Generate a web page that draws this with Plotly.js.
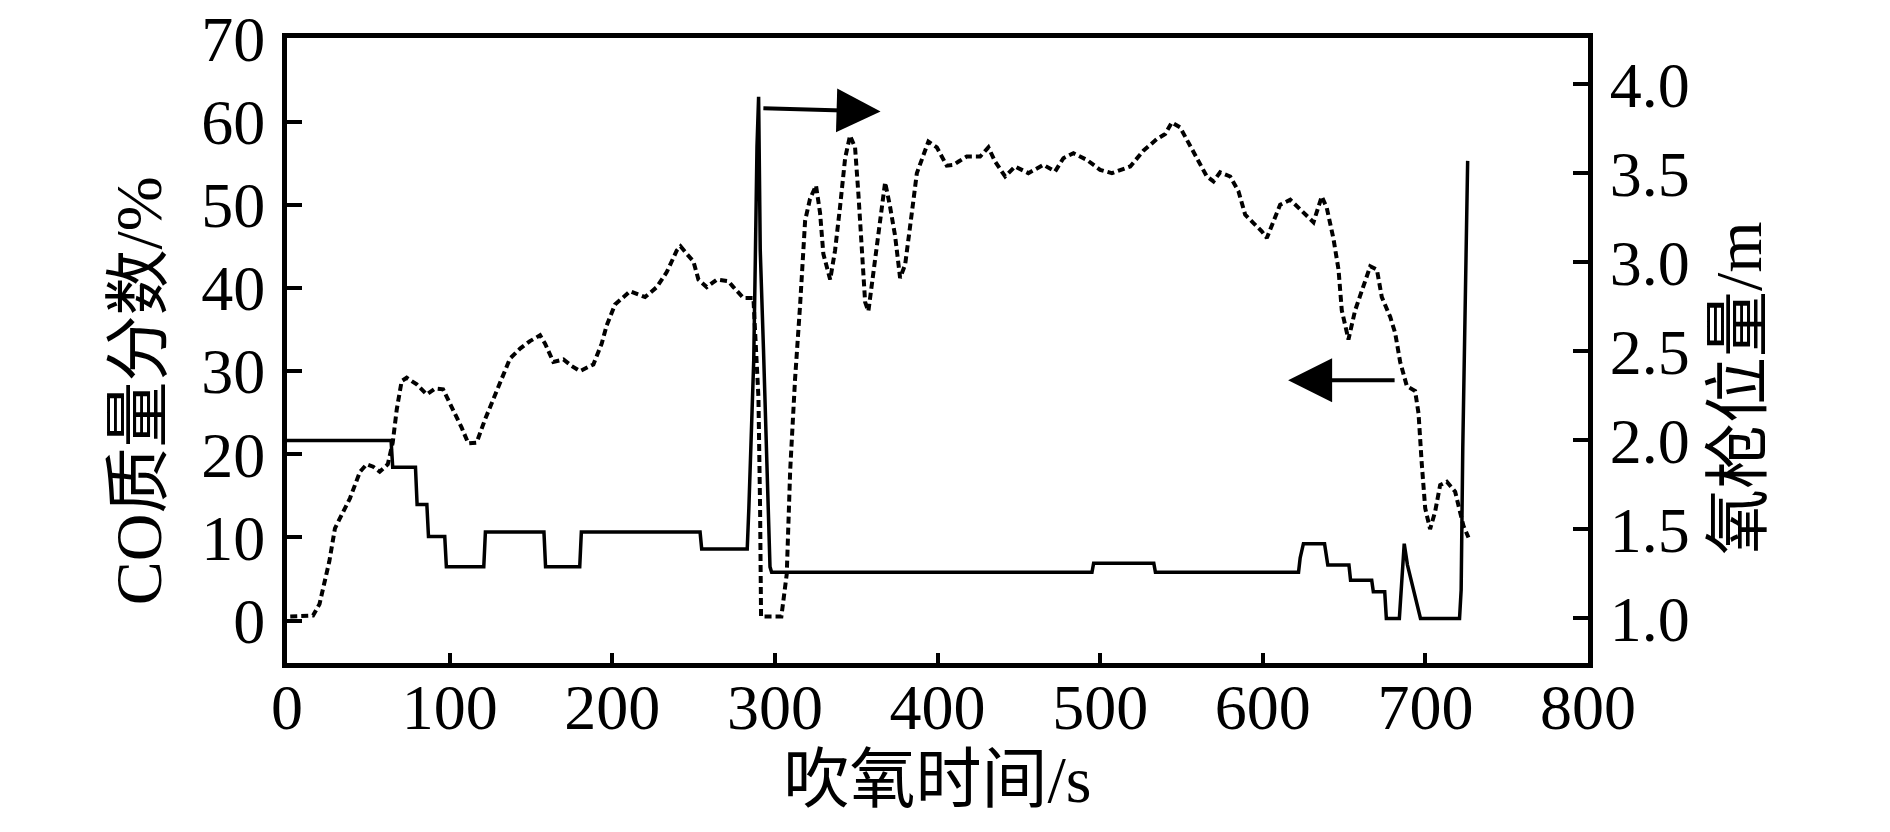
<!DOCTYPE html>
<html>
<head>
<meta charset="utf-8">
<script src="https://cdn.plot.ly/plotly-3.0.1.min.js"></script>
<style>
  html, body { margin: 0; padding: 0; background: #fff; }
  #myDiv { width: 1890px; height: 832px; }
</style>
</head>
<body>
<div id="myDiv"></div>
<script>
// CO mass fraction (%) vs blowing time (s), dashed line, left axis
var coTime = [2, 10, 16, 20, 22, 26, 29.5, 33.6, 38.7, 44.9, 49, 53, 57, 62, 65, 67.5, 70.5, 73.6, 79.8, 85.9,
  91, 96, 102.3, 107.4, 111.5, 116.6, 121.8, 126.9, 132, 137.1, 143.3, 149.4, 155.6, 158.7, 163.8, 170, 175.1, 180.2,
  188.4, 193.5, 196.6, 201.7, 211, 220.2, 227.4, 233.5, 239.7, 242, 245.8, 249.9, 253, 258.1, 264.3, 271.4, 274.5,
  280.6, 286.8, 289.9, 290.9, 291.5, 304, 307.3, 309.4, 312.4, 315.5, 318.6, 321.6, 325.3, 327.8, 329.8, 334, 337,
  340.1, 343.2, 346.2, 349.3, 351.4, 353.4, 355.5, 357.5, 360.6, 363.7, 367.8, 370.8, 373.9, 377, 380.1, 384.2, 387.3,
  394.4, 399.6, 405.7, 409.8, 413, 418, 426.2, 431.3, 435.4, 441.6, 447.7, 455.9, 465.1, 472.3, 477.4, 483.6, 491.8,
  500, 507.2, 518.5, 526.6, 534.9, 540, 544.1, 549.2, 553.3, 559.5, 565.6, 569.7, 573.8, 580, 585.1, 589.2, 594.3,
  599.4, 602.5, 606.6, 610.7, 616.9, 623, 631.2, 636.3, 639.4, 643.5, 646.6, 648.6, 652.7, 656.8, 662, 666.1, 670.2,
  673.2, 678.4, 681.4, 684.5, 688.6, 693.7, 695.8, 697.8, 699.9, 702.9, 706, 709.1, 713.2, 718.3, 721.4, 723.4, 726.5];
var coValue = [0.5, 0.5, 0.6, 2.0, 3.6, 7.1, 11.1, 12.7, 14.7, 17.9, 18.8, 18.5, 17.9, 18.8, 21.4, 25.4, 28.8, 29.2, 28.4, 27.2,
  27.9, 27.8, 25.4, 23.2, 21.3, 21.4, 24.2, 26.6, 29.0, 31.5, 32.7, 33.6, 34.3, 33.3, 31.1, 31.4, 30.6, 30.0,
  30.8, 33.3, 35.5, 38.0, 39.6, 38.9, 40.1, 41.9, 44.5, 45.0, 44.1, 43.2, 41.0, 40.1, 41.0, 40.8, 40.1,
  38.8, 38.8, 26.8, 13.6, 0.5, 0.5, 5.6, 18, 29, 37.9, 48.1, 50.7, 52.3, 49.0, 44.1, 41.0, 44.5,
  49.8, 55.6, 58.3, 56.9, 51.2, 44.5, 38.3, 37.2, 41.9, 46.4, 52.7, 49.8, 46.3, 41.2, 42.8, 49.0, 53.8,
  57.6, 56.9, 54.7, 54.8, 55.2, 55.8, 55.8, 56.9, 55.2, 53.4, 54.6, 53.8, 54.8, 54.0, 55.6, 56.2, 55.4,
  54.2, 53.8, 54.6, 56.5, 57.9, 58.5, 59.9, 59.3, 57.9, 55.6, 53.4, 52.8, 53.9, 53.4, 51.6, 48.8, 47.8,
  46.8, 46.0, 48.0, 50.0, 50.6, 49.4, 47.9, 51.0, 49.6, 45.9, 42.2, 37.3, 33.8, 37.3, 40.1, 42.6, 42.2,
  38.9, 36.5, 34.6, 31.1, 28.2, 27.6, 24.9, 18.8, 13.5, 11.0, 13.1, 16.3, 16.7, 15.5, 13.1, 11.4, 10.0];

// oxygen lance position (m) vs blowing time (s), solid line, right axis
var lanceTime = [0, 64, 65, 79, 80, 86, 87, 97, 98, 121, 122, 158, 159, 180, 181, 254, 255, 283, 284, 285, 287, 288,
  289, 290, 291, 293, 295, 297, 298, 495, 496, 533, 534, 622, 623, 625, 638, 640, 653, 654, 667, 668, 675, 676,
  684, 686, 687, 689, 693, 697, 721, 722, 723, 724, 725, 726];
var lanceValue = [2.0, 2.0, 1.85, 1.85, 1.64, 1.64, 1.46, 1.46, 1.29, 1.29, 1.485, 1.485, 1.29, 1.29, 1.485, 1.485, 1.39, 1.39, 1.62, 1.94, 2.45, 3.03,
  3.65, 3.93, 3.07, 2.51, 1.94, 1.29, 1.26, 1.26, 1.31, 1.31, 1.26, 1.26, 1.34, 1.42, 1.42, 1.30, 1.30, 1.215, 1.215, 1.15, 1.15, 1.0,
  1.0, 1.3, 1.42, 1.30, 1.15, 1.0, 1.0, 1.16, 1.96, 2.44, 3.02, 3.57];

var xTicks = [0, 100, 200, 300, 400, 500, 600, 700, 800];
var yTicks = [0, 10, 20, 30, 40, 50, 60, 70];
var y2Ticks = [1.0, 1.5, 2.0, 2.5, 3.0, 3.5, 4.0];

var xTitle = '吹氧时间/s';
var yTitle = 'CO质量分数/%';
var y2Title = '氧枪位量/m';

var fontFam = '"Liberation Serif", "Times New Roman", "Noto Sans CJK SC", serif';

var trace1 = {
  x: coTime,
  y: coValue,
  mode: 'lines',
  line: {color: '#000', width: 4, dash: '7px,4px'},
  yaxis: 'y',
  type: 'scatter'
};
var trace2 = {
  x: lanceTime,
  y: lanceValue,
  mode: 'lines',
  line: {color: '#000', width: 3.5},
  yaxis: 'y2',
  type: 'scatter'
};

var axisBase = {
  showgrid: false,
  zeroline: false,
  showline: true,
  linecolor: '#000',
  linewidth: 5,
  ticks: 'inside',
  tickcolor: '#000',
  tickwidth: 4,
  ticklabeloverflow: 'allow',
  tickfont: {family: fontFam, size: 64, color: '#000'}
};

var layout = {
  width: 1890,
  height: 832,
  margin: {l: 287, r: 302, t: 38, b: 169},
  paper_bgcolor: '#fff',
  plot_bgcolor: '#fff',
  showlegend: false,
  font: {family: fontFam, color: '#000'},
  xaxis: Object.assign({}, axisBase, {
    range: [0, 800],
    tickvals: xTicks,
    ticklen: 10,
    mirror: true,
    ticklabelstandoff: -16,
    title: {text: xTitle, font: {family: fontFam, size: 66, color: '#000'}, standoff: 13}
  }),
  yaxis: Object.assign({}, axisBase, {
    range: [-5.1, 70.05],
    tickvals: yTicks,
    ticklen: 15,
    ticklabelstandoff: 4
  }),
  yaxis2: Object.assign({}, axisBase, {
    range: [0.75, 4.26],
    tickvals: y2Ticks,
    tickformat: '.1f',
    ticklen: 15,
    ticklabelstandoff: 4,
    overlaying: 'y',
    side: 'right'
  }),
  annotations: [
    {text: yTitle, xref: 'paper', yref: 'paper', x: -0.1145, y: 0.435, xanchor: 'center', yanchor: 'middle',
      textangle: -90, showarrow: false, font: {family: fontFam, size: 66, color: '#000'}},
    {text: y2Title, xref: 'paper', yref: 'paper', x: 1.1153, y: 0.44, xanchor: 'center', yanchor: 'middle',
      textangle: -90, showarrow: false, font: {family: fontFam, size: 66, color: '#000'}},
    {x: 365, y: 61.2, ax: 292, ay: 61.6, xref: 'x', yref: 'y', axref: 'x', ayref: 'y',
      text: '', showarrow: true, arrowhead: 2, arrowsize: 2.2, arrowwidth: 4, arrowcolor: '#000'},
    {x: 615.6, y: 28.9, ax: 682, ay: 28.9, xref: 'x', yref: 'y', axref: 'x', ayref: 'y',
      text: '', showarrow: true, arrowhead: 2, arrowsize: 2.2, arrowwidth: 4, arrowcolor: '#000'}
  ]
};

Plotly.newPlot('myDiv', [trace1, trace2], layout, {displayModeBar: false, staticPlot: true});
</script>
</body>
</html>
